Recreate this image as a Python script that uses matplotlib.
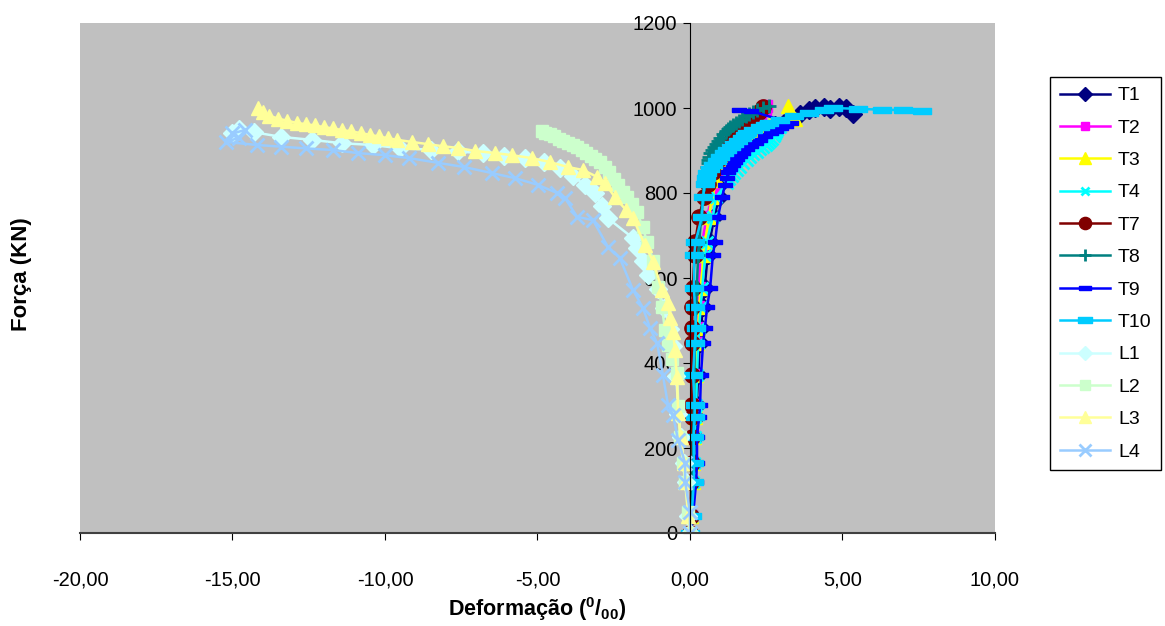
import numpy as np
import matplotlib
matplotlib.use("Agg")
from matplotlib import pyplot as plt
from matplotlib.ticker import FuncFormatter

plt.rcParams["font.family"] = ["Liberation Sans", "DejaVu Sans"]
plt.rcParams["mathtext.default"] = "regular"

# load steps shared by the T gauges (lower part of the curves)
loads_low = [0, 40, 120, 165, 226, 273, 301, 372, 447, 482, 532, 576, 654, 685, 744, 790]

T1_low = [0, 0.04, 0.1, 0.12, 0.17, 0.2, 0.22, 0.27, 0.32, 0.36, 0.42, 0.48, 0.58, 0.64, 0.8, 0.95]
T1_up_load = [820, 850, 880, 905, 925, 945, 960, 975, 985, 995, 1000, 1003, 998, 1003, 1000, 985]
T1_up = [1.0, 1.2, 1.45, 1.7, 2.0, 2.35, 2.8, 3.2, 3.6, 3.9, 4.1, 4.4, 4.6, 4.9, 5.1, 5.35]

T2_low = [0, 0.03, 0.08, 0.1, 0.12, 0.14, 0.15, 0.17, 0.2, 0.22, 0.25, 0.28, 0.35, 0.4, 0.55, 0.72]
T2_up_load = [820, 850, 880, 905, 930, 950, 970, 985, 998, 1005]
T2_up = [0.8, 0.95, 1.15, 1.35, 1.6, 1.85, 2.1, 2.3, 2.45, 2.5]

T3_low = [0, 0.04, 0.09, 0.11, 0.14, 0.16, 0.18, 0.2, 0.24, 0.27, 0.3, 0.35, 0.45, 0.5, 0.62, 0.72]
T3_up_load = [831, 860, 890, 915, 944, 960, 975, 1005]
T3_up = [0.89, 1.05, 1.3, 1.6, 2.03, 2.6, 3.45, 3.2]

T4_low = [0, 0.04, 0.1, 0.12, 0.15, 0.18, 0.2, 0.23, 0.27, 0.3, 0.35, 0.4, 0.5, 0.55, 0.75, 0.85]
T4_up_load = [823, 832, 840, 847, 854, 862, 870, 877, 885, 891, 897, 903, 908, 913, 918, 923, 928, 933,
              938, 943, 948, 955]
T4_up = [1.2, 1.28, 1.37, 1.45, 1.54, 1.65, 1.75, 1.86, 1.97, 2.08, 2.2, 2.3, 2.4, 2.48, 2.55, 2.62,
         2.7, 2.75, 2.8, 2.83, 2.85, 2.95]

T7_low = [0, 0.02, 0.04, 0.05, 0.05, 0.06, 0.06, 0.05, 0.07, 0.07, 0.08, 0.09, 0.15, 0.17, 0.3, 0.45]
T7_up_load = [820, 850, 880, 900, 920, 940, 960, 975, 990, 1003]
T7_up = [0.6, 0.75, 0.95, 1.1, 1.3, 1.5, 1.75, 2.0, 2.25, 2.4]

T8_low = [0, 0.03, 0.07, 0.09, 0.1, 0.12, 0.13, 0.14, 0.16, 0.18, 0.2, 0.22, 0.27, 0.3, 0.37, 0.42]
T8_up_load = [820, 835, 850, 860, 870, 878, 885, 893, 900, 908, 915, 923, 930, 938, 945, 950, 955, 960,
              965, 970, 975, 980, 985, 990, 995, 1000, 1005]
T8_up = [0.45, 0.48, 0.52, 0.55, 0.58, 0.6, 0.62, 0.67, 0.72, 0.78, 0.85, 0.92, 1.0, 1.08, 1.17, 1.24,
         1.31, 1.4, 1.5, 1.6, 1.7, 1.82, 1.95, 2.08, 2.2, 2.4, 2.6]

T9_low = [0, 0.1, 0.2, 0.23, 0.23, 0.3, 0.33, 0.36, 0.43, 0.49, 0.56, 0.66, 0.75, 0.82, 0.92, 1.05]
T9_up_load = [819, 835, 849, 857, 865, 872, 880, 888, 895, 903, 910, 918, 925, 933, 940, 946, 952, 958,
              965, 993, 996]
T9_up = [1.15, 1.2, 1.25, 1.32, 1.4, 1.47, 1.55, 1.65, 1.75, 1.87, 2.0, 2.15, 2.3, 2.47, 2.65, 2.82,
         3.0, 3.15, 3.3, 2.0, 1.6]

T10_low = [0, 0.05, 0.13, 0.13, 0.12, 0.15, 0.16, 0.1, 0.16, 0.2, 0.16, 0.13, 0.14, 0.18, 0.39, 0.43]
T10_up_load = [820, 835, 847, 856, 865, 875, 885, 893, 900, 908, 915, 923, 930, 936, 941, 948, 955, 960,
               965, 972, 980, 988, 995, 1000, 998, 996, 995, 993]
T10_up = [0.48, 0.52, 0.55, 0.65, 0.75, 0.88, 1.0, 1.1, 1.2, 1.33, 1.45, 1.58, 1.7, 1.8, 1.87, 2.08,
          2.3, 2.45, 2.6, 2.95, 3.4, 3.9, 4.4, 4.7, 5.5, 6.3, 7.0, 7.6]

L1_load = [0, 40, 120, 165, 225, 280, 370, 440, 480, 530, 575, 607, 640, 670, 694, 741, 770, 800, 819, 840,
           859, 872, 882, 888, 893, 898, 902, 905, 913, 917, 925, 932, 943, 950, 942]
L1 = [0, -0.05, -0.12, -0.2, -0.3, -0.38, -0.45, -0.55, -0.65, -0.85, -1.05, -1.38, -1.55, -1.74, -1.87,
      -2.7, -2.9, -3.1, -3.44, -3.85, -4.26, -4.8, -5.4, -6.1, -6.8, -7.6, -8.5, -9.5, -10.4, -11.4,
      -12.4, -13.4, -14.3, -14.8, -15.0]

L2_load = [0, 49, 120, 165, 226, 300, 376, 410, 442, 477, 532, 580, 640, 685, 720, 755, 775, 790, 803, 818,
           834, 849, 862, 872, 881, 888, 895, 902, 908, 913, 918, 923, 928, 933, 938, 942, 945]
L2 = [0, -0.07, -0.16, -0.23, -0.33, -0.38, -0.43, -0.6, -0.72, -0.82, -0.92, -1.05, -1.2, -1.41, -1.55,
      -1.74, -1.9, -2.07, -2.2, -2.35, -2.5, -2.65, -2.8, -2.95, -3.1, -3.25, -3.4, -3.55, -3.7, -3.85,
      -4.0, -4.15, -4.3, -4.45, -4.6, -4.75, -4.85]

L3_load = [0, 40, 120, 165, 225, 282, 367, 430, 473, 506, 541, 572, 638, 678, 741, 760, 790, 824, 838, 854,
           861, 873, 882, 889, 894, 899, 906, 910, 915, 920, 925, 929, 933, 937, 941, 945, 948, 952, 955, 959,
           962, 965, 970, 975, 982, 990, 1000]
L3 = [0, -0.05, -0.15, -0.2, -0.3, -0.39, -0.43, -0.49, -0.56, -0.66, -0.72, -0.92, -1.2, -1.48, -1.87,
      -2.1, -2.46, -2.8, -3.05, -3.5, -4.0, -4.6, -5.18, -5.84, -6.4, -7.05, -7.6, -8.1, -8.6, -9.1,
      -9.6, -9.9, -10.2, -10.5, -10.8, -11.1, -11.4, -11.7, -12.0, -12.3, -12.6, -12.9, -13.2, -13.5, -13.8,
      -14.0, -14.16]

L4_load = [0, 49, 120, 165, 219, 278, 301, 372, 447, 482, 529, 572, 647, 673, 736, 744, 788, 800, 819, 835,
           847, 861, 871, 882, 889, 894, 901, 905, 909, 913, 920, 930, 940, 948]
L4 = [0, 0, -0.16, -0.16, -0.39, -0.56, -0.72, -0.89, -1.08, -1.31, -1.54, -1.87, -2.3, -2.69, -3.18,
      -3.7, -4.1, -4.36, -4.98, -5.74, -6.5, -7.4, -8.26, -9.2, -10.0, -10.9, -11.7, -12.6, -13.4, -14.2,
      -15.2, -14.8, -15.0, -14.6]

# small "dash" markers used by Excel for T9 / T10
dash = [(-1, -0.35), (1, -0.35), (1, 0.35), (-1, 0.35), (-1, -0.35)]

series = [
    ("T1", T1_low + T1_up, loads_low + T1_up_load, "#000080", "D", 9, 1),
    ("T2", T2_low + T2_up, loads_low + T2_up_load, "#FF00FF", "s", 8, 1),
    ("T3", T3_low + T3_up, loads_low + T3_up_load, "#FFFF00", "^", 10, 1),
    ("T4", T4_low + T4_up, loads_low + T4_up_load, "#00FFFF", "x", 8, 2),
    ("T7", T7_low + T7_up, loads_low + T7_up_load, "#800000", "o", 11, 1),
    ("T8", T8_low + T8_up, loads_low + T8_up_load, "#008080", "+", 10, 2),
    ("T9", T9_low + T9_up, loads_low + T9_up_load, "#0000FF", dash, 10, 1),
    ("T10", T10_low + T10_up, loads_low + T10_up_load, "#00CCFF", dash, 13, 1),
    ("L1", L1, L1_load, "#CCFFFF", "D", 9, 1),
    ("L2", L2, L2_load, "#CCFFCC", "s", 9, 1),
    ("L3", L3, L3_load, "#FFFF99", "^", 10, 1),
    ("L4", L4, L4_load, "#99CCFF", "x", 10, 2),
]

fig = plt.figure(figsize=(11.65, 6.26), dpi=100)
ax = fig.add_axes([80 / 1165, 93 / 626, 915 / 1165, 510 / 626])
ax.set_facecolor("#C0C0C0")

for name, xs, ys, col, mk, ms, mew in series:
    ax.plot(xs, ys, color=col, lw=1.8, marker=mk, ms=ms, mfc=col, mec=col, mew=mew, label=name)

ax.set_xlim(-20, 10)
ax.set_ylim(0, 1200)
ax.set_xticks(np.arange(-20, 11, 5))
ax.set_yticks(np.arange(0, 1201, 200))
ax.xaxis.set_major_formatter(FuncFormatter(lambda v, p: ("%.2f" % v).replace(".", ",")))

ax.spines["top"].set_visible(False)
ax.spines["right"].set_visible(False)
ax.spines["left"].set_position(("data", 0))
ax.spines["left"].set_color("black")
ax.spines["bottom"].set_color("#404040")
ax.spines["bottom"].set_linewidth(1.5)
ax.tick_params(axis="x", direction="out", length=5, pad=22, labelsize=14.5)
ax.tick_params(axis="y", direction="out", length=5, pad=4, labelsize=14.5)

fig.text(537 / 1165, 1 - 609 / 626, "Deformação ($^{0}$/$_{00}$)", ha="center", va="center",
         fontsize=15.5, fontweight="bold")
fig.text(22 / 1165, 1 - 274 / 626, "Força (KN)", ha="center", va="center", rotation=90,
         fontsize=16, fontweight="bold")

leg = fig.legend(loc="upper left", bbox_to_anchor=(1050 / 1165, 1 - 77 / 626), fontsize=14,
                 handlelength=2.6, labelspacing=0.76, borderpad=0.5, handletextpad=0.4,
                 fancybox=False, framealpha=1, edgecolor="black", borderaxespad=0)
leg.get_frame().set_linewidth(1.0)
for h in leg.legend_handles:
    h.set_markersize(h.get_markersize() * 0.8)

fig.savefig("out.png", dpi=100)
